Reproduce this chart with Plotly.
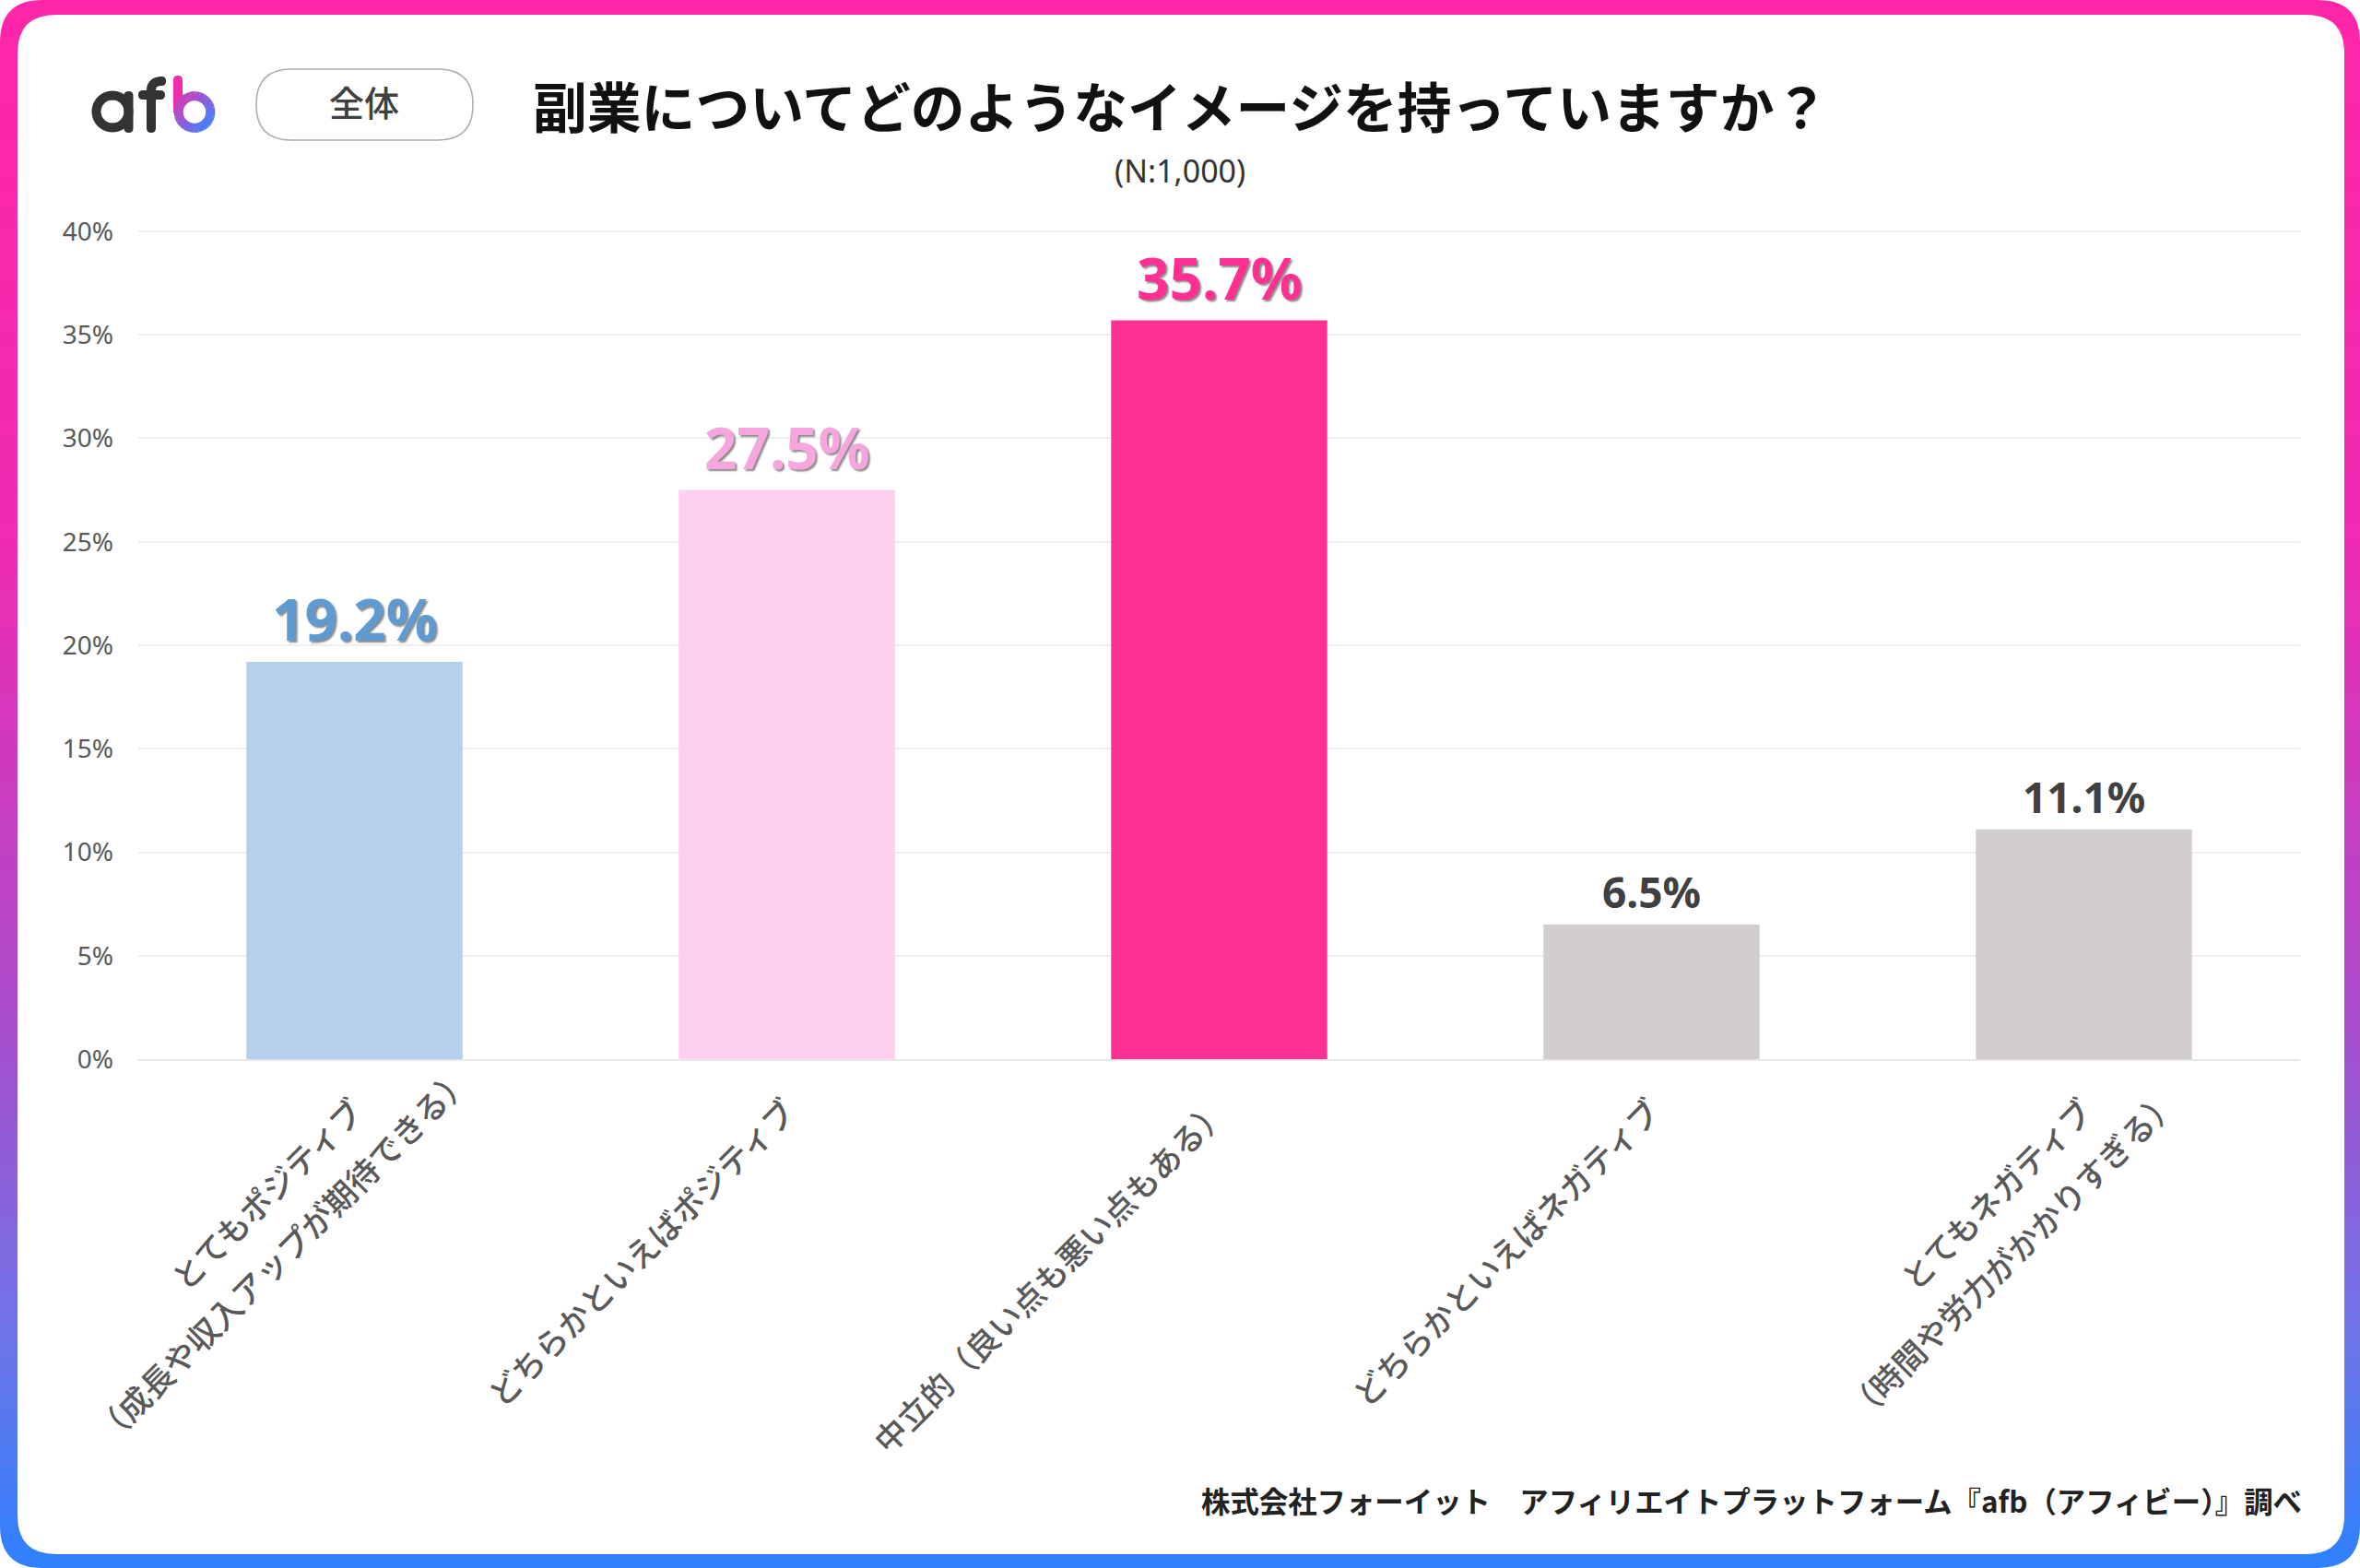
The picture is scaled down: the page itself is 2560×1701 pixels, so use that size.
import math
import plotly.graph_objects as go

W = 2560
H = 1701

categories = ['とてもポジティブ', 'どちらかといえばポジティブ', '中立的（良い点も悪い点もある）',
              'どちらかといえばネガティブ', 'とてもネガティブ']
sub_labels = ['（成長や収入アップが期待できる）', None, None, None, '（時間や労力がかかりすぎる）']
values = [19.2, 27.5, 35.7, 6.5, 11.1]
bar_colors = ['#B4D0EB', '#FDD0F0', '#FF3092', '#D2CECF', '#D2CECF']
label_colors = ['#5F9BD0', '#F6A6DC', '#FF3092', '#404040', '#404040']
label_sizes = [62, 62, 62, 46, 46]
label_shadows = ['2px 2px 2px #8a8a8a', '2px 2px 2px #8a8a8a', '2px 2px 2px #8a8a8a', 'none', 'none']
frame_stops = [(0.0, '#FF26A8'), (0.35, '#EE2CB2'), (0.65, '#A84CCB'), (0.85, '#6F74E6'), (1.0, '#2F80FF')]

CJK = 'Noto Sans CJK JP'


def px(x):
    return x / W


def py(y):
    return 1 - y / H


def hex_mix(c1, c2, t):
    a = [int(c1[i:i + 2], 16) for i in (1, 3, 5)]
    b = [int(c2[i:i + 2], 16) for i in (1, 3, 5)]
    return '#' + ''.join('%02x' % round(a[i] + (b[i] - a[i]) * t) for i in range(3))


def frame_color(t):
    for (t0, c0), (t1, c1) in zip(frame_stops, frame_stops[1:]):
        if t <= t1:
            return hex_mix(c0, c1, (t - t0) / (t1 - t0))
    return frame_stops[-1][1]


def pt(x, y):
    return f'{px(x):.5f} {py(y):.5f}'


def round_rect(x0, y0, x1, y1, r):
    return (f'M {pt(x0 + r, y0)} L {pt(x1 - r, y0)} Q {pt(x1, y0)} {pt(x1, y0 + r)} '
            f'L {pt(x1, y1 - r)} Q {pt(x1, y1)} {pt(x1 - r, y1)} '
            f'L {pt(x0 + r, y1)} Q {pt(x0, y1)} {pt(x0, y1 - r)} '
            f'L {pt(x0, y0 + r)} Q {pt(x0, y0)} {pt(x0 + r, y0)} Z')


def path_shape(path, fill=None, line=None, width=0):
    return dict(type='path', path=path, xref='paper', yref='paper', layer='below',
                fillcolor=fill or 'rgba(0,0,0,0)',
                line=dict(color=line or 'rgba(0,0,0,0)', width=width))


def page_text(x, y, text, font, xanchor='center'):
    return dict(x=px(x), y=py(y), xref='paper', yref='paper', text=text, showarrow=False,
                xanchor=xanchor, yanchor='middle', font=font)


shapes = []

# gradient frame, thin strips from pink to blue
n_strips = 90
for i in range(n_strips):
    y0 = H * i / n_strips
    y1 = H * (i + 1) / n_strips + 1
    shapes.append(dict(type='rect', xref='paper', yref='paper', layer='below',
                       x0=0, x1=1, y0=py(y0), y1=py(min(y1, H)),
                       fillcolor=frame_color((i + 0.5) / n_strips), line_width=0))

# white outside the rounded outer corners
outer_r = 46
for cx, cy, sx, sy in [(0, 0, 1, 1), (W, 0, -1, 1), (0, H, 1, -1), (W, H, -1, -1)]:
    shapes.append(path_shape(f'M {pt(cx, cy)} L {pt(cx + sx * outer_r, cy)} '
                             f'Q {pt(cx, cy)} {pt(cx, cy + sy * outer_r)} Z', fill='#FFFFFF'))

# white card
shapes.append(path_shape(round_rect(19, 16, 2543, 1686, 42), fill='#FFFFFF'))

# pill behind 全体
shapes.append(path_shape(round_rect(278, 75, 513, 152, 38), fill='#FFFFFF', line='#ABABAB', width=1.5))

# logo: a
DARK = '#333333'
a_ring = ' '.join(('M' if k == 0 else 'L') + ' ' + pt(122 + 17.5 * math.cos(k * math.pi / 24),
                                                      121 + 17.5 * math.sin(k * math.pi / 24))
                  for k in range(49)) + ' Z'
shapes.append(path_shape(a_ring, line=DARK, width=10))
shapes.append(path_shape(round_rect(134.5, 99, 144.5, 144, 5), fill=DARK))
# logo: f
shapes.append(path_shape(f'M {pt(164, 138)} L {pt(164, 98)} Q {pt(164, 88)} {pt(176, 88)}', line=DARK, width=10))
shapes.append(path_shape(round_rect(150, 98, 179, 108, 5), fill=DARK))
shapes.append(path_shape(round_rect(159, 130, 169, 144, 5), fill=DARK))
shapes.append(path_shape(round_rect(171, 83, 180, 93, 4.5), fill=DARK))
# logo: b, colour runs round the bowl
shapes.append(path_shape(round_rect(188, 82, 198, 125, 5), fill='#F22BAA'))
n_arc = 24
for k in range(n_arc):
    a0 = math.pi + 2 * math.pi * k / n_arc
    a1 = math.pi + 2 * math.pi * (k + 1.2) / n_arc
    mx = 211 + 17.5 * math.cos((a0 + a1) / 2)
    my = 121.5 + 17.5 * math.sin((a0 + a1) / 2)
    t = min(max(((mx - 193) + (my - 103)) / 72, 0), 1)
    seg = (f'M {pt(211 + 17.5 * math.cos(a0), 121.5 + 17.5 * math.sin(a0))} '
           f'L {pt(211 + 17.5 * math.cos(a1), 121.5 + 17.5 * math.sin(a1))}')
    shapes.append(path_shape(seg, line=hex_mix('#D83AB4', '#3A86FF', t), width=10))

fig = go.Figure(go.Bar(x=categories, y=values, marker_color=bar_colors, marker_line_width=0))

annotations = []

# values above the bars
for cat, val, col, size, shadow in zip(categories, values, label_colors, label_sizes, label_shadows):
    annotations.append(dict(x=cat, y=val, xref='x', yref='y', text=f'{val}%', showarrow=False,
                            yanchor='bottom', yshift=3,
                            font=dict(family='Noto Sans', size=size, color=col, weight='bold', shadow=shadow)))

# second line of the long axis labels
for cat, sub in zip(categories, sub_labels):
    if sub:
        annotations.append(dict(x=cat, y=0, xref='x', yref='y', text=sub, showarrow=False,
                                textangle=-45, xshift=-80, yshift=-211,
                                font=dict(family=CJK, size=35, color='#595959', weight=500)))

# header and footer
annotations.append(page_text(395, 110, '全体', dict(family=CJK, size=38, color='#404040', weight=500)))
annotations.append(page_text(1280, 113, '副業についてどのようなイメージを持っていますか？',
                             dict(family=CJK, size=58.8, color='#111111', weight='bold')))
annotations.append(page_text(1280, 185, '(N:1,000)', dict(family='Noto Sans', size=34, color='#333333')))
annotations.append(page_text(2499, 1627, '株式会社フォーイット　アフィリエイトプラットフォーム『afb（アフィビー）』調べ',
                             dict(family=CJK, size=31.4, color='#222222', weight='bold'), xanchor='right'))

fig.update_layout(width=W, height=H, margin=dict(l=0, r=0, t=0, b=0, pad=0),
                  paper_bgcolor='#FFFFFF', plot_bgcolor='rgba(0,0,0,0)',
                  bargap=0.5, showlegend=False, shapes=shapes, annotations=annotations)

fig.update_xaxes(domain=[px(150), px(2495)], range=[-0.5, 4.5], tickangle=-45, ticks='', ticklabelstandoff=20,
                 tickfont=dict(family=CJK, size=35, color='#595959', weight=500),
                 showgrid=False, showline=True, linecolor='#E8E8E8', linewidth=2, automargin=False)
# range goes a little over 40 so the top gridline is kept, domain top moved to match
fig.update_yaxes(domain=[py(1149), py(246.5)], range=[0, 40.2], tick0=0, dtick=5,
                 ticksuffix='%', tickfont=dict(family='Noto Sans', size=28, color='#595959'),
                 gridcolor='#EFEFEF', gridwidth=2, zeroline=False, showline=False,
                 ticks='', ticklabelstandoff=26, automargin=False)

fig.write_html("out.html", config=dict(displayModeBar=False), post_script="document.body.style.margin='0';")
